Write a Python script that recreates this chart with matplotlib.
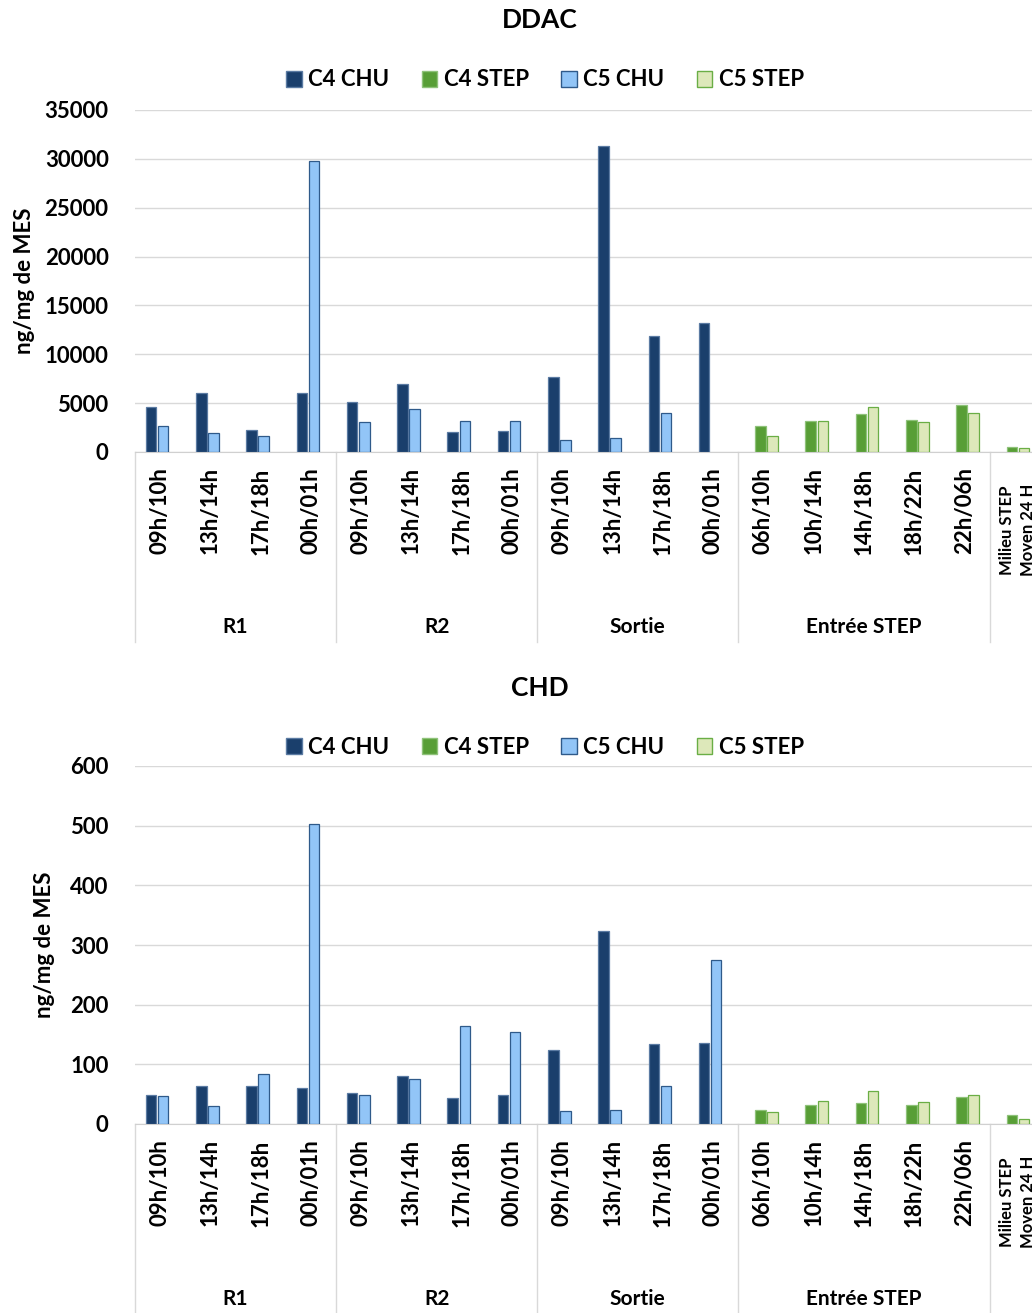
import numpy as np
import matplotlib.pyplot as plt
from matplotlib.patches import Patch
from matplotlib.lines import Line2D

plt.rcParams['font.family'] = ['Lato', 'DejaVu Sans']
plt.rcParams['font.weight'] = 'bold'

# categories (x axis, two levels)
hours = ["09h/10h", "13h/14h", "17h/18h", "00h/01h",
         "09h/10h", "13h/14h", "17h/18h", "00h/01h",
         "09h/10h", "13h/14h", "17h/18h", "00h/01h",
         "06h/10h", "10h/14h", "14h/18h", "18h/22h", "22h/06h",
         "Milieu STEP\nMoyen 24 H"]
groups = ["R1", "R2", "Sortie", "Entrée STEP", ""]
group_sizes = [4, 4, 4, 5, 1]

series = ["C4 CHU", "C4 STEP", "C5 CHU", "C5 STEP"]

# DDAC (ng/mg de MES); None = no bar
ddac_c4_chu = [4650, 6050, 2270, 6050, 5130, 6960, 2030, 2170,
               7680, 31300, 11900, 13200] + [None] * 6
ddac_c5_chu = [2700, 1900, 1650, 29800, 3030, 4410, 3170, 3170,
               1200, 1450, 4000, None] + [None] * 6
ddac_c4_step = [None] * 12 + [2620, 3200, 3900, 3300, 4820, 550]
ddac_c5_step = [None] * 12 + [1650, 3170, 4580, 3070, 4000, 420]

# CHD (ng/mg de MES)
chd_c4_chu = [49, 64, 64, 60, 52, 80, 43, 49,
              124, 324, 134, 136] + [None] * 6
chd_c5_chu = [47, 30, 83, 502, 48, 75, 165, 155,
              22, 24, 64, 275] + [None] * 6
chd_c4_step = [None] * 12 + [24, 32, 36, 32, 45, 15]
chd_c5_step = [None] * 12 + [20, 39, 56, 37, 49, 9]

face = ["#1a3f6c", "#589e36", "#92c5f7", "#dde8ba"]
edge = ["#5b7ba3", "#8fc27a", "#2f5a8a", "#6aae45"]
offsets = [-0.18, -0.06, 0.06, 0.18]
width = 0.21

W, H = 1032, 1313
fig = plt.figure(figsize=(W / 100, H / 100), dpi=100)


def panel(top, bottom, sep_end, title, title_y, legend_y, data, ymax, ystep, ylab_x):
    left, right = 135, 1040
    hpx = bottom - top
    ax = fig.add_axes([left / W, 1 - bottom / H, (right - left) / W, hpx / H])
    x = np.arange(len(hours))
    for i, vals in enumerate(data):
        xs = [xi + offsets[i] for xi, v in zip(x, vals) if v is not None]
        hs = [v for v in vals if v is not None]
        ax.bar(xs, hs, width=width, color=face[i], edgecolor=edge[i], linewidth=0.9, zorder=3)
    ax.set_xlim(-0.5, len(hours) - 0.5)
    ax.set_ylim(0, ymax)
    ax.set_yticks(np.arange(0, ymax + 1, ystep))
    ax.yaxis.grid(True, color="#d9d9d9", linewidth=1, zorder=0)
    for s in ["top", "right", "left"]:
        ax.spines[s].set_visible(False)
    ax.spines["bottom"].set_color("#d0d0d0")
    ax.tick_params(axis="y", length=0, pad=19, labelsize=16)
    ax.set_xticks(x[:-1])
    ax.set_xticklabels(hours[:-1], rotation=90, fontsize=16, va="top", ha="center")
    ax.tick_params(axis="x", length=0, pad=11)
    trans = ax.get_xaxis_transform()
    ax.text(x[-1] + 0.05, -78 / hpx, hours[-1], rotation=90, fontsize=12,
            ha="center", va="center", transform=trans, linespacing=1.4)
    # group labels and separators
    start = 0
    for g, n in zip(groups, group_sizes):
        ax.add_line(Line2D([start - 0.5, start - 0.5], [0, -(sep_end - bottom) / hpx],
                           transform=trans, color="#d9d9d9", linewidth=1, clip_on=False))
        ax.text(start - 0.5 + n / 2, -(sep_end - 15 - bottom) / hpx, g, fontsize=15,
                ha="center", va="center", transform=trans)
        start += n
    fig.text(540 / W, 1 - title_y / H, title, fontsize=19, ha="center", va="center")
    fig.text(ylab_x / W, 1 - (top + bottom) / 2 / H, "ng/mg de MES", rotation=90,
             fontsize=16, ha="center", va="center")
    handles = [Patch(facecolor=face[i], edgecolor=edge[i], label=series[i]) for i in range(4)]
    fig.legend(handles=handles, loc="center", bbox_to_anchor=(545 / W, 1 - legend_y / H),
               ncol=4, frameon=False, fontsize=16, handlelength=0.7, handleheight=0.7,
               handletextpad=0.3, columnspacing=1.45)
    return ax


panel(110, 452, 642, "DDAC", 20, 80,
      [ddac_c4_chu, ddac_c4_step, ddac_c5_chu, ddac_c5_step], 35000, 5000, 25)
panel(766, 1124, 1314, "CHD", 688, 747,
      [chd_c4_chu, chd_c4_step, chd_c5_chu, chd_c5_step], 600, 100, 45)

fig.savefig("out.png", dpi=100)
